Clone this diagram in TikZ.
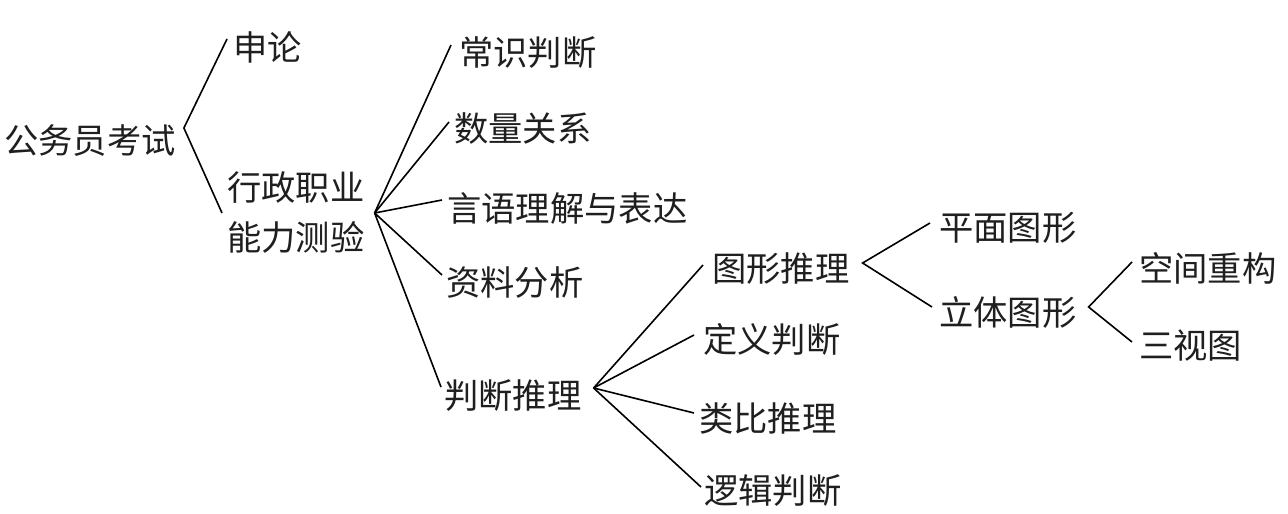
\documentclass[tikz,border=0pt]{standalone}
\usepackage{fontspec}
\setmainfont{Noto Sans CJK SC}
\begin{document}
\begin{tikzpicture}[x=1pt,y=-1pt,
  lbl/.style={anchor=west,inner sep=0pt,font=\fontsize{34.3}{50}\selectfont,text=black!88},
  br/.style={line width=1.6pt,black}]
\useasboundingbox[fill=white] (0,0) rectangle (1288,514);
% nodes
\node[lbl] (root) at (4,141) {公务员考试};
\node[lbl] (sl) at (233,47) {申论};
\node[lbl,align=left] (xz) at (227,213) {行政职业\\能力测验};
\node[lbl] (cs) at (459,53) {常识判断};
\node[lbl] (sl2) at (454,128) {数量关系};
\node[lbl] (yy) at (447,208) {言语理解与表达};
\node[lbl] (zl) at (446,283) {资料分析};
\node[lbl] (pd) at (444,396) {判断推理};
\node[lbl] (tx) at (712,269) {图形推理};
\node[lbl] (dy) at (703,339) {定义判断};
\node[lbl] (lb) at (699,418) {类比推理};
\node[lbl] (lj) at (704,491) {逻辑判断};
\node[lbl] (pm) at (939,228) {平面图形};
\node[lbl] (lt) at (939,312) {立体图形};
\node[lbl] (kj) at (1139,268) {空间重构};
\node[lbl] (ss) at (1139,346) {三视图};
% vertices
\coordinate (v0) at ([xshift=8pt,yshift=13pt]root.east);
\coordinate (v1) at ([xshift=10pt]xz.east);
\coordinate (v2) at ([xshift=12pt,yshift=8pt]pd.east);
\coordinate (v3) at ([xshift=13pt,yshift=6pt]tx.east);
\coordinate (v4) at ([xshift=12pt,yshift=5pt]lt.east);
% connectors
\draw[br] ([xshift=-6pt,yshift=8pt]sl.west) -- (v0) -- ([xshift=-5pt]xz.west);
\draw[br] (v1) -- ([xshift=-8pt,yshift=8pt]cs.west);
\draw[br] (v1) -- ([xshift=-5pt,yshift=6pt]sl2.west);
\draw[br] (v1) -- ([xshift=-5pt,yshift=8pt]yy.west);
\draw[br] (v1) -- ([xshift=-4pt,yshift=8pt]zl.west);
\draw[br] (v1) -- ([xshift=-3pt,yshift=9pt]pd.west);
\draw[br] (v2) -- ([xshift=-9pt,yshift=4pt]tx.west);
\draw[br] (v2) -- ([xshift=-9pt,yshift=4pt]dy.west);
\draw[br] (v2) -- ([xshift=-5pt,yshift=5pt]lb.west);
\draw[br] (v2) -- ([xshift=-3pt,yshift=4pt]lj.west);
\draw[br] ([xshift=-9pt,yshift=5pt]pm.west) -- (v3) -- ([xshift=-7pt,yshift=5pt]lt.west);
\draw[br] ([xshift=-7pt,yshift=6pt]kj.west) -- (v4) -- ([xshift=-7pt,yshift=4pt]ss.west);
\end{tikzpicture}
\end{document}
